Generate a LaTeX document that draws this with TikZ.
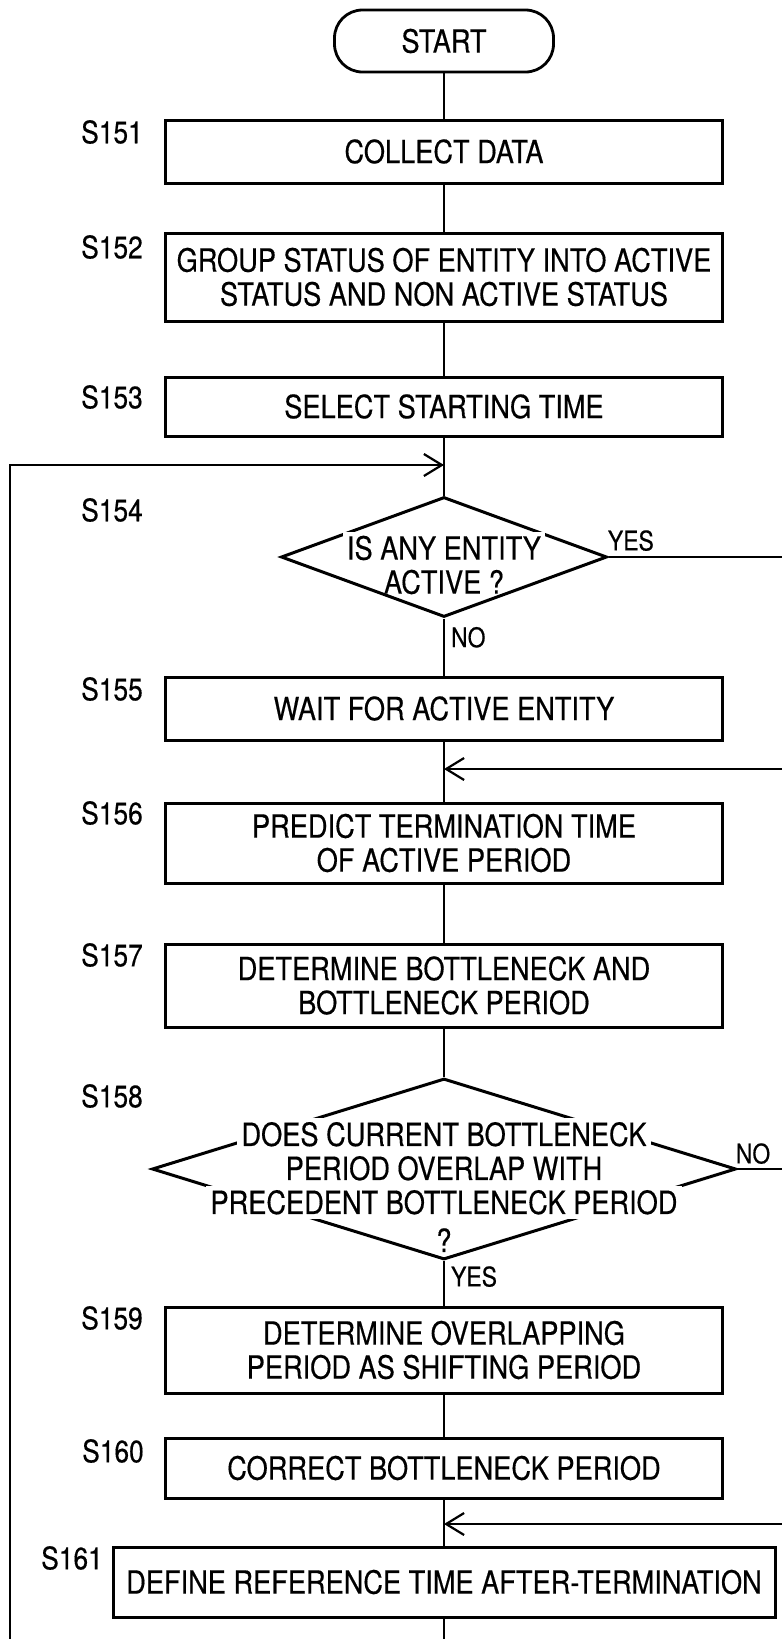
\documentclass[tikz,border=0pt]{standalone}
\usepackage{fontspec}
\setmainfont[FakeStretch=0.85, FakeBold=0.4]{TeX Gyre Heros}
\usetikzlibrary{arrows.meta, shapes.geometric}
\newcommand{\cutline}[1]{{\setlength{\fboxsep}{4pt}\colorbox{white}{#1}}}

\begin{document}
\begin{tikzpicture}[x=1pt, y=-1pt, align=center, line width=2.2pt,
  >={Straight Barb[length=18pt,width=22pt]},
  every node/.style={font=\fontsize{32}{34}\selectfont},
  proc/.style={rectangle, draw, line width=3pt, minimum width=557pt, inner sep=2pt},
  term/.style={rectangle, draw, line width=2.8pt, rounded corners=28pt,
    minimum width=219pt, minimum height=62pt},
  cond/.style={diamond, draw, line width=3pt, inner sep=0pt},
  steplabel/.style={font=\fontsize{31}{31}\selectfont},
  branch/.style={font=\fontsize{27}{27}\selectfont, inner sep=0pt}]
\useasboundingbox (0,0) rectangle (782,1639);

\path (444,41) node[term] (start) {START}
      (444,151.5) node[proc, minimum height=63pt] (s151) {COLLECT DATA}
      (444,277) node[proc, minimum height=88pt] (s152) {GROUP STATUS OF ENTITY INTO ACTIVE\\STATUS AND NON ACTIVE STATUS}
      (444,406.5) node[proc, minimum height=59pt] (s153) {SELECT STARTING TIME}
      (444,557) node[cond, minimum width=326pt, minimum height=120pt] (s154) {}
      (444,708.5) node[proc, minimum height=63pt] (s155) {WAIT FOR ACTIVE ENTITY}
      (444,843) node[proc, minimum height=80pt] (s156) {PREDICT TERMINATION TIME\\OF ACTIVE PERIOD}
      (444,985.5) node[proc, minimum height=83pt] (s157) {DETERMINE BOTTLENECK AND\\BOTTLENECK PERIOD}
      (444,1169) node[cond, minimum width=584pt, minimum height=181pt] (s158) {}
      (444,1350) node[proc, minimum height=86pt] (s159) {DETERMINE OVERLAPPING\\PERIOD AS SHIFTING PERIOD}
      (444,1468) node[proc, minimum height=60pt] (s160) {CORRECT BOTTLENECK PERIOD}
      (444,1582) node[proc, minimum width=662pt, minimum height=70pt] (s161) {DEFINE REFERENCE TIME AFTER-TERMINATION};

\path (444,563) node (q154) {\cutline{IS ANY ENTITY}\\ACTIVE ?}
      (444,1185) node (q158) {\cutline{DOES CURRENT BOTTLENECK}\\PERIOD OVERLAP WITH\\\cutline{PRECEDENT BOTTLENECK PERIOD}\\[4pt]?};

\path (112,132) node[steplabel] (l151) {S151}
      (112,247) node[steplabel] (l152) {S152}
      (112,397) node[steplabel] (l153) {S153}
      (112,510) node[steplabel] (l154) {S154}
      (112,689) node[steplabel] (l155) {S155}
      (112,813) node[steplabel] (l156) {S156}
      (112,955) node[steplabel] (l157) {S157}
      (112,1096) node[steplabel] (l158) {S158}
      (112,1318) node[steplabel] (l159) {S159}
      (113,1451) node[steplabel] (l160) {S160}
      (72,1558) node[steplabel] (l161) {S161};

\coordinate (j1) at (444,465);
\coordinate (j2) at (444,769);
\coordinate (j3) at (444,1524);
\coordinate (lt) at (10,465);
\coordinate (lb) at (10,1650);
\coordinate (ra) at (795,557);
\coordinate (rb) at (795,769);
\coordinate (rc) at (795,1169);
\coordinate (rd) at (795,1524);
\coordinate (end) at (444,1650);

\draw (start) to (s151);
\draw (s151) to (s152);
\draw (s152) to (s153);
\draw (s153) to (s154);
\draw (s154) to node[branch, right=6pt, pos=0.33] (n154) {NO} (s155);
\draw (s155) to (s156);
\draw (s156) to (s157);
\draw (s157) to (s158);
\draw (s158) to node[branch, right=6pt, pos=0.35] (y158) {YES} (s159);
\draw (s159) to (s160);
\draw (s160) to (s161);
\draw (s161) to (end);
\draw[->] (lb) to (lt) to (j1);
\draw[->] (s154.east) to node[branch, above=5pt, pos=0.12] (y154) {YES} (ra) to (rb) to (j2);
\draw[->] (s158.east) to node[branch, above=4pt, pos=0.27] (n158) {NO} (rc) to (rd) to (j3);

\end{tikzpicture}
\end{document}
